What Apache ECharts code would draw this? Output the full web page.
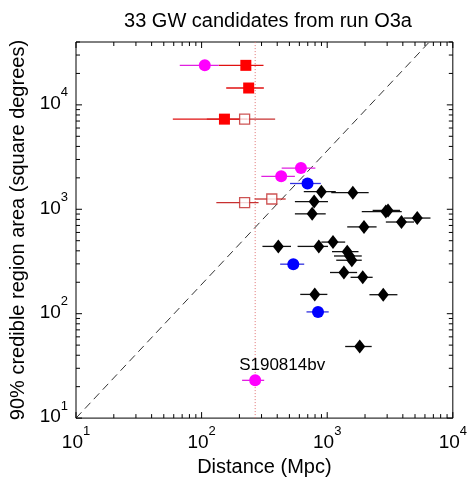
<!DOCTYPE html>
<html>
<head>
<meta charset="utf-8">
<script src="https://cdn.jsdelivr.net/npm/echarts@6/dist/echarts.min.js"></script>
<style>
  html, body { margin: 0; padding: 0; background: #fff; }
  #chart { width: 470px; height: 482px; }
</style>
</head>
<body>
<div id="chart"></div>
<script>
// Sky-localisation area vs luminosity distance, each point with a horizontal distance error bar.
// Each entry: [distance (Mpc), area (deg^2), distance low, distance high]
const magentaPoints = [
  [106, 23900, 67, 137],
  [430, 2070, 299, 553],
  [618, 2480, 434, 805],
  [267, 23, 210, 315]
];
const redFilledPoints = [
  [225, 23900, 137, 311],
  [237, 14500, 157, 313],
  [152, 7300, 59, 230]
];
const redOpenPoints = [
  [220, 7300, 110, 385],
  [220, 1160, 131, 284],
  [362, 1254, 264, 467]
];
const bluePoints = [
  [697, 1766, 506, 889],
  [537, 298, 422, 656],
  [845, 104, 684, 1028]
];
const blackPoints = [
  [898, 1473, 651, 1170],
  [1600, 1443, 1077, 2138],
  [787, 1186, 553, 1014],
  [759, 904, 553, 973],
  [2930, 950, 1884, 3920],
  [3050, 975, 2300, 3800],
  [3900, 755, 2930, 4910],
  [5210, 824, 4090, 6640],
  [1963, 678, 1443, 2472],
  [408, 441, 305, 515],
  [857, 441, 581, 1014],
  [1112, 485, 898, 1390],
  [1443, 393, 1092, 1775],
  [1506, 357, 1132, 1884],
  [1571, 325, 1180, 1884],
  [1358, 248, 1052, 1730],
  [1918, 223, 1535, 2300],
  [796, 153, 610, 1003],
  [2793, 152, 2168, 3622],
  [1815, 48.5, 1390, 2260]
];

// Reference lines
const highlightName = 'S190814bv';
const highlightDistance = 267;
const diagonalLine = [[10, 10], [6500, 40000]];

// Axis ranges and tick decades
const xRange = [10, 10000];
const yRange = [10, 40000];
const xDecades = [10, 100, 1000, 10000];
const yDecades = [10, 100, 1000, 10000];
const tickMultipliers = [1, 2, 3, 4, 5, 6, 7, 8, 9];

const FONT = '"Liberation Sans", Arial, Helvetica, sans-serif';

// Tick marks on all four sides of the frame (pointing inward)
const tickData = [];
xDecades.forEach(d => tickMultipliers.forEach(m => {
  const v = d * m;
  if (v >= xRange[0] && v <= xRange[1]) tickData.push([v, yRange[0], 0, m === 1 ? 1 : 0]);
}));
yDecades.forEach(d => tickMultipliers.forEach(m => {
  const v = d * m;
  if (v >= yRange[0] && v <= yRange[1]) tickData.push([xRange[0], v, 1, m === 1 ? 1 : 0]);
}));

function renderTick(params, api) {
  const kind = api.value(2);
  const len = api.value(3) ? 6 : 4;
  const style = { stroke: '#000', lineWidth: 1 };
  if (kind === 0) {
    const v = api.value(0);
    const b = api.coord([v, yRange[0]]);
    const t = api.coord([v, yRange[1]]);
    return { type: 'group', children: [
      { type: 'line', shape: { x1: b[0], y1: b[1], x2: b[0], y2: b[1] - len }, style },
      { type: 'line', shape: { x1: t[0], y1: t[1], x2: t[0], y2: t[1] + len }, style }
    ]};
  }
  const v = api.value(1);
  const l = api.coord([xRange[0], v]);
  const r = api.coord([xRange[1], v]);
  return { type: 'group', children: [
    { type: 'line', shape: { x1: l[0], y1: l[1], x2: l[0] + len, y2: l[1] }, style },
    { type: 'line', shape: { x1: r[0], y1: r[1], x2: r[0] - len, y2: r[1] }, style }
  ]};
}

function errorBarSeries(data, color) {
  return {
    type: 'custom',
    coordinateSystem: 'cartesian2d',
    silent: true,
    z: 3,
    encode: { x: 0, y: 1 },
    data: data,
    renderItem: function (params, api) {
      const y = api.value(1);
      const p1 = api.coord([api.value(2), y]);
      const p2 = api.coord([api.value(3), y]);
      return { type: 'line', shape: { x1: p1[0], y1: p1[1], x2: p2[0], y2: p2[1] },
               style: { stroke: color, lineWidth: 1.3 } };
    }
  };
}

function markerSeries(data, symbol, size, color, extra) {
  return Object.assign({
    type: 'scatter',
    z: 5,
    symbol: symbol,
    symbolSize: size,
    data: data.map(p => [p[0], p[1]]),
    itemStyle: { color: color, opacity: 1 },
    emphasis: { disabled: true },
    silent: true
  }, extra || {});
}

const richLabel = {
  b: { fontSize: 19, lineHeight: 19, fontFamily: FONT, color: '#000', verticalAlign: 'top', padding: [8, 0, 0, 0] },
  s: { fontSize: 13, lineHeight: 13, fontFamily: FONT, color: '#000', verticalAlign: 'top' }
};

function labelFormatter(v) {
  const lg = Math.log10(v);
  const e = Math.round(lg);
  if (Math.abs(lg - e) > 1e-6) return '';
  return '{b|10}{s|' + e + '}';
}

const chart = echarts.init(document.getElementById('chart'), null, { renderer: 'canvas' });

chart.setOption({
  animation: false,
  backgroundColor: '#fff',
  title: {
    text: '33 GW candidates from run O3a',
    left: 263,
    textAlign: 'center',
    top: 6,
    textStyle: { fontFamily: FONT, fontSize: 20, fontWeight: 'normal', color: '#000' }
  },
  grid: {
    left: 76, top: 42, width: 379, height: 381,
    show: true, borderColor: '#000', borderWidth: 1, backgroundColor: '#fff'
  },
  xAxis: {
    type: 'log', logBase: 10, min: xRange[0], max: xRange[1],
    name: 'Distance (Mpc)', nameLocation: 'middle', nameGap: 37,
    nameTextStyle: { fontFamily: FONT, fontSize: 20, color: '#000' },
    axisLine: { show: false }, axisTick: { show: false }, splitLine: { show: false },
    axisLabel: { margin: 7, formatter: labelFormatter, rich: richLabel, showMaxLabel: true, showMinLabel: true }
  },
  yAxis: {
    type: 'log', logBase: 10, min: yRange[0], max: yRange[1],
    name: '90% credible region area (square degrees)', nameLocation: 'middle', nameGap: 44,
    nameTextStyle: { fontFamily: FONT, fontSize: 20, color: '#000' },
    axisLine: { show: false }, axisTick: { show: false }, splitLine: { show: false },
    axisLabel: { margin: 8, formatter: labelFormatter, rich: richLabel, padding: [0, 0, 18, 0] }
  },
  series: [
    {
      type: 'custom', coordinateSystem: 'cartesian2d', silent: true, z: 10,
      encode: { x: 0, y: 1 }, data: tickData, renderItem: renderTick
    },
    {
      type: 'line', data: diagonalLine, symbol: 'none', silent: true, z: 2,
      lineStyle: { color: '#333', width: 1, type: [8, 5] }
    },
    {
      type: 'line', data: [[highlightDistance, yRange[0]], [highlightDistance, yRange[1]]],
      symbol: 'none', silent: true, z: 2,
      lineStyle: { color: '#e07070', width: 1, type: [1, 2] }
    },
    errorBarSeries(blackPoints, '#111'),
    errorBarSeries(bluePoints, '#3030e0'),
    errorBarSeries(redOpenPoints, '#c83030'),
    errorBarSeries(redFilledPoints, '#e01010'),
    errorBarSeries(magentaPoints, '#e020e0'),
    markerSeries(blackPoints, 'diamond', [11, 14], '#000'),
    markerSeries(bluePoints, 'circle', 12, '#0000ff'),
    markerSeries(redOpenPoints, 'rect', 10, '#fff',
      { itemStyle: { color: '#fff', borderColor: '#c02828', borderWidth: 1.3 } }),
    markerSeries(redFilledPoints, 'rect', 11, '#ff0000'),
    markerSeries(magentaPoints, 'circle', 12, '#ff00ff', {
      label: {
        show: true, position: 'top', distance: 1, offset: [27, 0],
        fontFamily: FONT, fontSize: 17, color: '#000',
        formatter: function (p) { return p.value[0] === highlightDistance ? highlightName : ''; }
      }
    })
  ]
});
</script>
</body>
</html>
